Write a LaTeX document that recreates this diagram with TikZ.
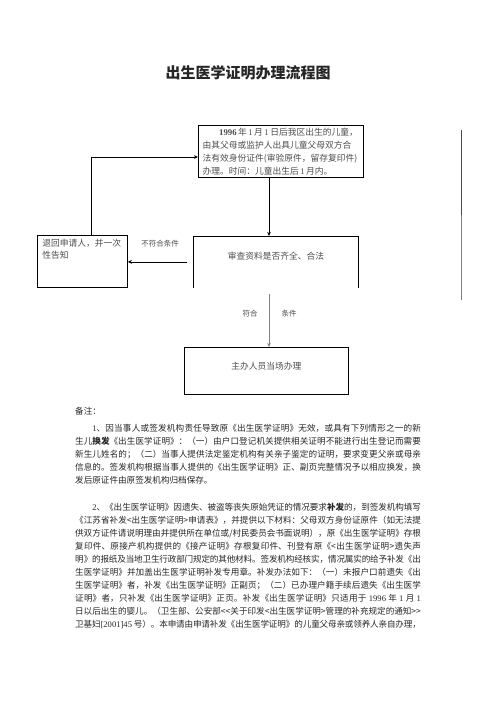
\documentclass[tikz,border=0pt]{standalone}
\usepackage{fontspec}
\setmainfont{Noto Sans CJK SC}
\newfontfamily\latinfont{Liberation Serif}
\usetikzlibrary{arrows.meta}
\XeTeXlinebreaklocale "zh"
\XeTeXlinebreakskip=0pt plus 1pt minus 0.8pt
\definecolor{inkgray}{gray}{0.15}
\definecolor{boxgray}{gray}{0.3}
\definecolor{linegray}{gray}{0.5}
\newcommand{\lat}[1]{{\latinfont #1}}
\tikzset{
  flowbox/.style={draw, line width=0.9pt, inner xsep=6pt, inner ysep=3pt,
    font=\fontsize{10.5pt}{15.6pt}\selectfont, text=boxgray},
  flowarrow/.style={line width=0.9pt, -{Stealth[length=5pt,width=4.5pt]}},
  smalltag/.style={font=\fontsize{9pt}{9pt}\selectfont, text=boxgray, inner sep=0pt},
  notetext/.style={inner sep=0pt, text width=415pt, align=justify, anchor=north west,
    font=\fontsize{10.3pt}{15.6pt}\selectfont, text=inkgray},
}

\begin{document}
\begin{tikzpicture}[x=1.2pt, y=-1.2pt]
    \useasboundingbox (0,0) rectangle (496,702);
    % Title
    \node[font=\fontsize{18pt}{18pt}\selectfont\bfseries, text=inkgray] (title) at (248,73) {出生医学证明办理流程图};
    % Application box
    \node[flowbox, anchor=north west, inner xsep=5pt, text width=188pt, minimum height=62.4pt, align=left] (apply) at (198,125)
        {\hbox to 20pt{}\lat{\bfseries 1996}\,年\,\lat{1}\,月\,\lat{1}\,日后我区出生的儿童，\\
         由其父母或监护人出具儿童父母双方合\\
         法有效身份证件(审验原件，留存复印件)\\
         办理。时间：儿童出生后\,\lat{1}\,月内。};
    % Review box (open at the bottom)
    \node[flowbox, draw=none, anchor=north west, minimum width=198pt, minimum height=61.2pt, text depth=14pt] (review) at (193,236)
        {审查资料是否齐全、合法};
    \draw[line width=0.9pt] (review.south west) -- (review.north west) -- (review.north east) -- (review.south east);
    % Refusal box
    \node[flowbox, anchor=north west, inner ysep=5pt, font=\fontsize{10.5pt}{14.4pt}\selectfont] (refuse) at (37,235)
        {\parbox[c][52.4pt][t]{96pt}{退回申请人，并一次\\性告知}};
    % Handling box
    \node[flowbox, anchor=north west, minimum width=196.8pt, minimum height=56.4pt, text depth=12pt] (handle) at (184,347)
        {主办人员当场办理};
    % Connectors
    \coordinate (axis) at (269,0);
    \coordinate (turn) at (91,157);
    \draw[flowarrow] (apply.south -| axis) -- (review.north -| axis);
    \draw[flowarrow] ([xshift=-7.2pt]review.west) -- (refuse.east |- review.west);
    \node[smalltag] (nomatch) at (160,244) {不符合条件};
    \draw[flowarrow] (refuse.north -| turn) |- (apply.west |- turn);
    \draw[flowarrow, draw=linegray] ([yshift=-7.2pt]review.south -| axis) -- (handle.north -| axis);
    \node[smalltag] (matchl) at (250,314) {符合};
    \node[smalltag] (matchr) at (289,314) {条件};
    % Margin rule
    \coordinate (ruletop) at (461,130);
    \coordinate (rulemid) at (461,215);
    \coordinate (rulebot) at (461,300);
    \draw[line width=1pt, gray!60!black] (ruletop) -- (rulemid);
    \draw[line width=1pt, linegray] (rulemid) -- (rulebot);
    % Notes
    \node[anchor=west, inner sep=0pt, font=\fontsize{10.3pt}{15.6pt}\selectfont, text=inkgray] (notes) at (75,411) {备注：};
    \node[notetext] (itemone) at (75,424)
        {\noindent\hspace*{2em}\lat{1}、因当事人或签发机构责任导致原《出生医学证明》无效，或具有下列情形之一的新\linebreak
         生儿{\bfseries 换发}《出生医学证明》：（一）由户口登记机关提供相关证明不能进行出生登记而需要\linebreak
         新生儿姓名的；（二）当事人提供法定鉴定机构有关亲子鉴定的证明，要求变更父亲或母亲\linebreak
         信息的。签发机构根据当事人提供的《出生医学证明》正、副页完整情况予以相应换发，换\linebreak
         发后原证件由原签发机构归档保存。};
    \node[notetext] (itemtwo) at (75,503)
        {\parfillskip=0pt\noindent\hspace*{2em}\lat{2}、《出生医学证明》因遗失、被盗等丧失原始凭证的情况要求{\bfseries 补发}的，到签发机构填写\linebreak
         《江苏省补发<出生医学证明>申请表》，并提供以下材料：父母双方身份证原件（如无法提\linebreak
         供双方证件请说明理由并提供所在单位或/村民委员会书面说明），原《出生医学证明》存根\linebreak
         复印件、原接产机构提供的《接产证明》存根复印件、刊登有原《<出生医学证明>遗失声\linebreak
         明》的报纸及当地卫生行政部门规定的其他材料。签发机构经核实，情况属实的给予补发《出\linebreak
         生医学证明》并加盖出生医学证明补发专用章。补发办法如下：（一）未报户口前遗失《出\linebreak
         生医学证明》者，补发《出生医学证明》正副页；（二）已办理户籍手续后遗失《出生医学\linebreak
         证明》者，只补发《出生医学证明》正页。补发《出生医学证明》只适用于 \lat{1996} 年 \lat{1} 月 \lat{1}\linebreak
         日以后出生的婴儿。（卫生部、公安部<{}<关于印发<出生医学证明>管理的补充规定的通知>{}>\linebreak
         卫基妇\lat{[2001]45} 号）。本申请由申请补发《出生医学证明》的儿童父母亲或领养人亲自办理，};
\end{tikzpicture}
\end{document}
